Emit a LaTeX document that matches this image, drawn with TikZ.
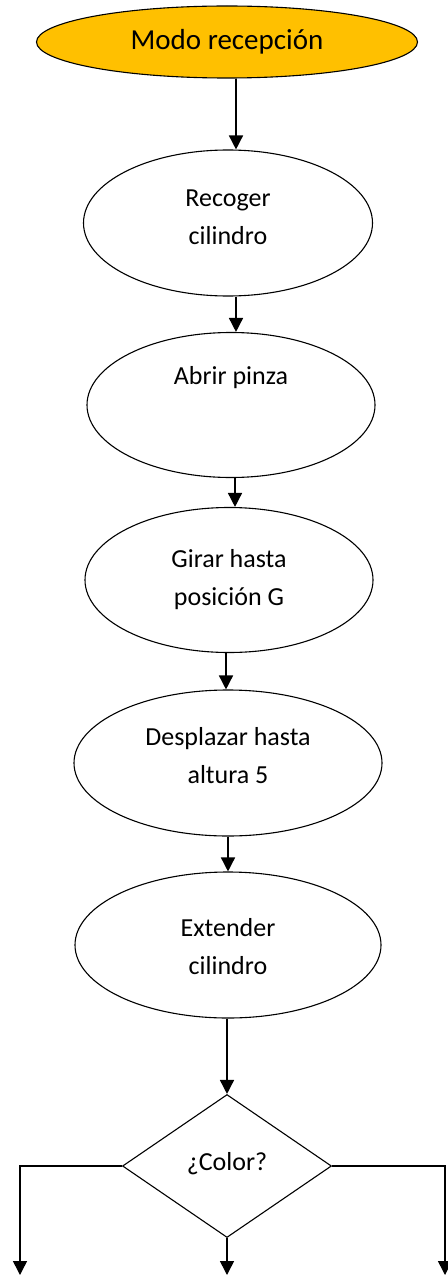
\documentclass[tikz,border=0pt]{standalone}
\usepackage{fontspec}
\setmainfont{Carlito}
\usetikzlibrary{shapes.geometric,arrows.meta}
\definecolor{startfill}{HTML}{FFC000}
% raise a centred block of lines without changing its size
\newcommand\liftlines[2]{\raisebox{#1}[\height][\depth]{\begin{tabular}{@{}c@{}}#2\end{tabular}}}
\begin{document}
\begin{tikzpicture}[x=1pt,y=-1pt,
  every node/.style={inner sep=0pt, font=\fontsize{26}{38}\selectfont, align=center},
  stepbox/.style={ellipse, draw, line width=1.1pt},
  arr/.style={line width=1.5pt, -{Triangle[length=14pt,width=14pt]}}]
\useasboundingbox (0,0) rectangle (447,1276);
\node[stepbox, fill=startfill, minimum width=381pt, minimum height=72pt,
      font=\fontsize{29}{34}\selectfont] (start) at (227,42) {Modo recepción};
\node[stepbox, minimum width=289pt, minimum height=146pt] (n1) at (228,223) {\liftlines{5pt}{Recoger\\cilindro}};
\node[stepbox, minimum width=288pt, minimum height=145pt] (n2) at (231,405) {\liftlines{9pt}{Abrir pinza\\\mbox{}}};
\node[stepbox, minimum width=288pt, minimum height=145pt] (n3) at (229,580) {\liftlines{1pt}{Girar hasta\\posición G}};
\node[stepbox, minimum width=308pt, minimum height=146pt] (n4) at (228,763) {\liftlines{6pt}{Desplazar hasta\\altura 5}};
\node[stepbox, minimum width=306pt, minimum height=146pt] (n5) at (228,945) {\liftlines{-3pt}{Extender\\cilindro}};
\node[diamond, draw, line width=1.1pt, minimum width=209pt, minimum height=143pt] (dec) at (227,1166) {\raisebox{10pt}{¿Color?}};
% ends of the three outgoing branches
\coordinate (outl) at (20,1275);
\coordinate (outm) at (227,1275);
\coordinate (outr) at (445,1275);
\draw[arr] ([xshift=9pt]start.south) -- ([xshift=8pt]n1.north);
\draw[arr] ([xshift=8pt]n1.south) -- ([xshift=5pt]n2.north);
\draw[arr] ([xshift=4pt]n2.south) -- ([xshift=6pt]n3.north);
\draw[arr] ([xshift=-3pt]n3.south) -- ([xshift=-2pt]n4.north);
\draw[arr] (n4.south) -- (n5.north);
\draw[arr] ([xshift=-1pt]n5.south) -- (dec.north);
\draw[arr] (dec.west) -| (outl);
\draw[arr] (dec.east) -| (outr);
\draw[arr] (dec.south) -- (outm);
\end{tikzpicture}
\end{document}
